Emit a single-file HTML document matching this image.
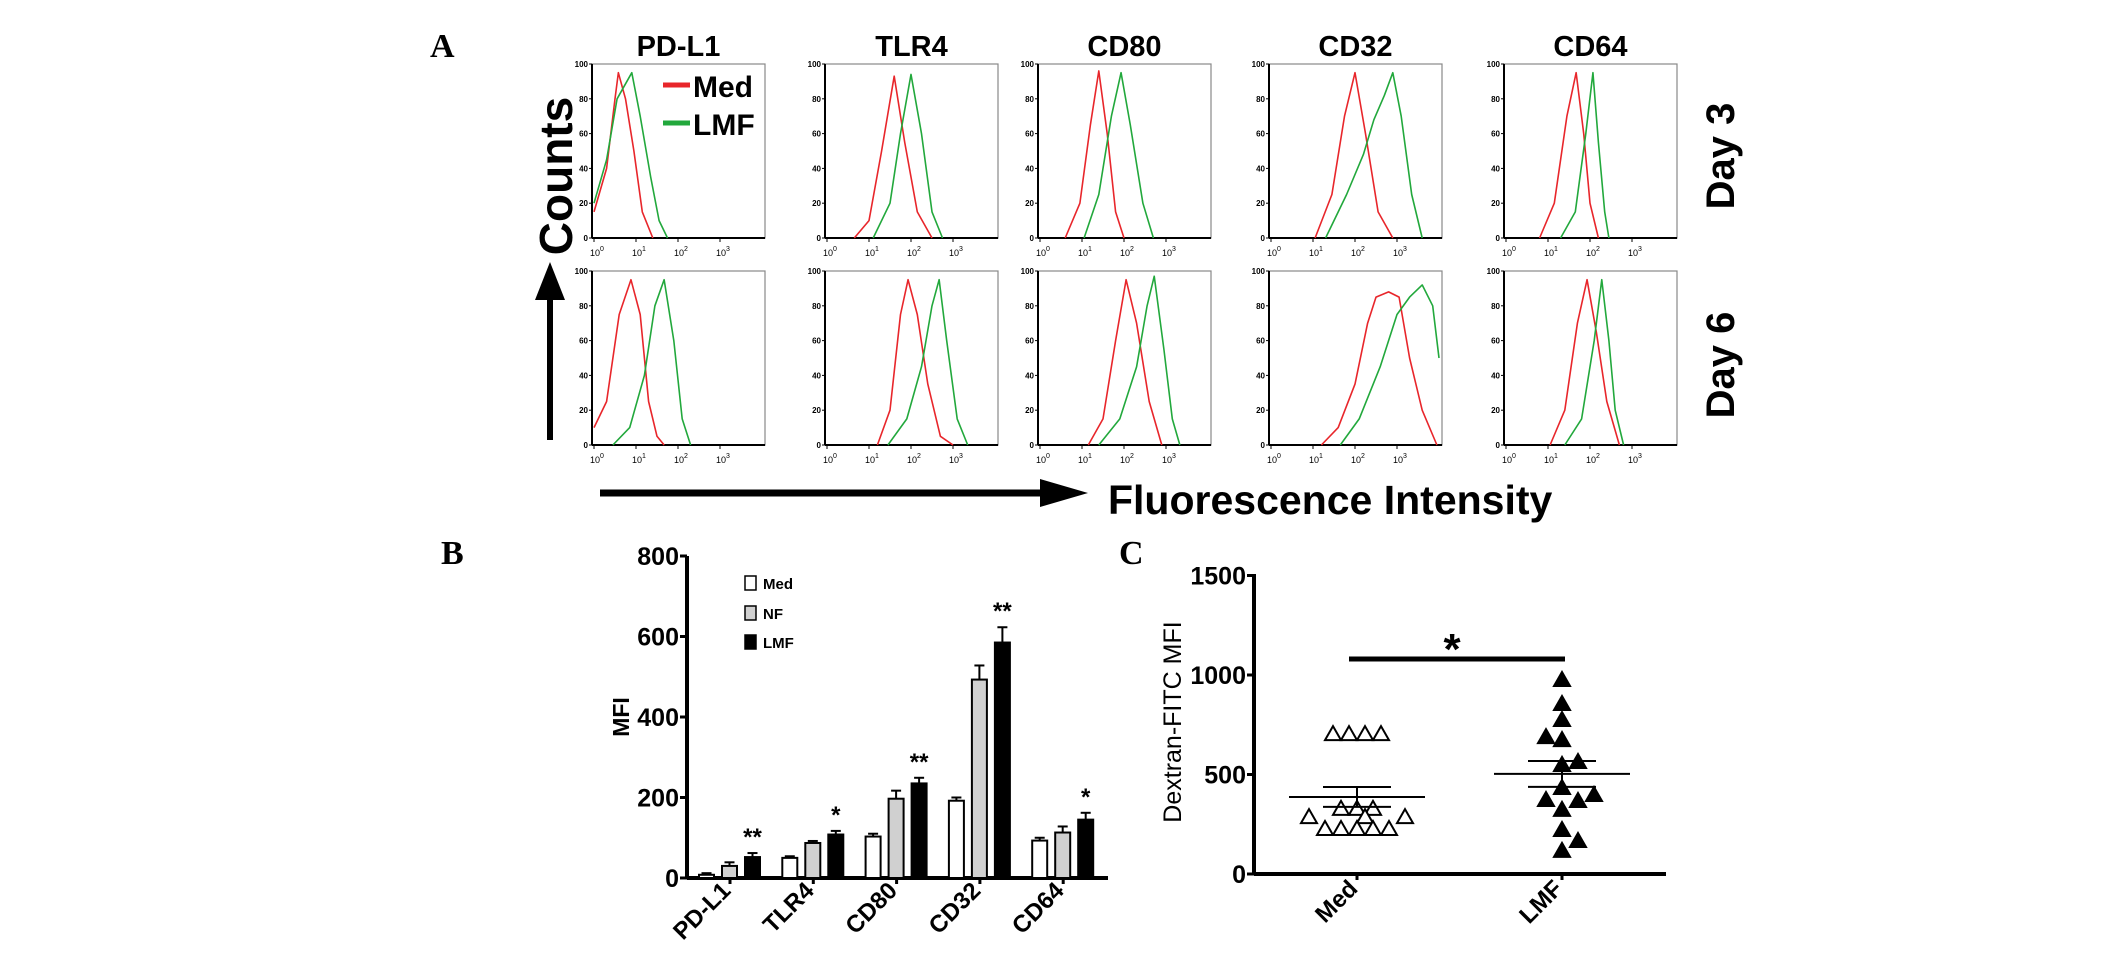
<!DOCTYPE html>
<html><head><meta charset="utf-8"><style>
html,body{margin:0;padding:0;background:#fff;}
svg{display:block;font-family:"Liberation Sans",Arial,sans-serif;}
</style></head><body>
<svg id="fig" width="2126" height="960" viewBox="0 0 2126 960" xmlns="http://www.w3.org/2000/svg">
<rect x="0" y="0" width="2126" height="960" fill="#fff"/>
<text x="430" y="57" font-family="Liberation Serif,serif" font-weight="bold" font-size="34">A</text>
<text x="441" y="564" font-family="Liberation Serif,serif" font-weight="bold" font-size="34">B</text>
<text x="1119" y="564" font-family="Liberation Serif,serif" font-weight="bold" font-size="34">C</text>
<text transform="translate(572,176) rotate(-90)" text-anchor="middle" font-weight="bold" font-size="46">Counts</text>
<g><line x1="550" y1="440" x2="550" y2="290" stroke="#000" stroke-width="6"/><polygon points="550,262 535,300 565,300" fill="#000"/></g>
<g><line x1="600" y1="493" x2="1050" y2="493" stroke="#000" stroke-width="7"/><polygon points="1088,493 1040,479 1040,507" fill="#000"/></g>
<text x="1108" y="514" font-weight="bold" font-size="41">Fluorescence Intensity</text>
<text transform="translate(1734,156) rotate(-90)" text-anchor="middle" font-weight="bold" font-size="40">Day 3</text>
<text transform="translate(1734,365) rotate(-90)" text-anchor="middle" font-weight="bold" font-size="40">Day 6</text>
<g id="hist"></g>
<g id="barB"></g>
<g id="dotC"></g>
</svg>
<script>
const NS="http://www.w3.org/2000/svg";
function mk(tag,attrs,parent,txt){const e=document.createElementNS(NS,tag);for(const k in attrs)e.setAttribute(k,attrs[k]);if(txt!==undefined)e.textContent=txt;parent.appendChild(e);return e;}

/* ---------- Panel A histogram data: [log10 decade, % max count] ---------- */
const markers=["PD-L1","TLR4","CD80","CD32","CD64"];
const day3Med=[
 [[0,15],[0.3,40],[0.5,80],[0.58,95],[0.75,80],[0.95,50],[1.15,15],[1.4,0]],
 [[0.65,0],[1.0,10],[1.3,50],[1.6,93],[1.85,55],[2.15,15],[2.5,0]],
 [[0.6,0],[0.95,20],[1.2,65],[1.4,96],[1.6,60],[1.8,15],[2.0,0]],
 [[1.05,0],[1.45,25],[1.75,70],[2.0,95],[2.25,60],[2.55,15],[2.9,0]],
 [[0.8,0],[1.15,20],[1.45,70],[1.67,95],[1.85,60],[2.0,20],[2.2,0]]];
const day3LMF=[
 [[0,20],[0.3,45],[0.55,80],[0.9,95],[1.1,70],[1.35,35],[1.55,10],[1.75,0]],
 [[1.1,0],[1.5,20],[1.75,60],[2.0,94],[2.25,60],[2.5,15],[2.75,0]],
 [[1.05,0],[1.4,25],[1.7,70],[1.93,95],[2.15,65],[2.45,20],[2.7,0]],
 [[1.3,0],[1.8,25],[2.2,48],[2.45,68],[2.7,82],[2.9,95],[3.1,70],[3.35,25],[3.6,0]],
 [[1.3,0],[1.65,15],[1.9,60],[2.07,95],[2.2,55],[2.35,15],[2.45,0]]];
const day6Med=[
 [[0,10],[0.3,25],[0.6,75],[0.88,95],[1.1,75],[1.3,25],[1.5,5],[1.67,0]],
 [[1.2,0],[1.5,20],[1.75,75],[1.93,95],[2.15,75],[2.4,35],[2.7,5],[3.0,0]],
 [[1.15,0],[1.5,15],[1.8,60],[2.05,95],[2.3,70],[2.6,25],[2.9,0]],
 [[1.2,0],[1.6,10],[2.0,35],[2.3,70],[2.5,85],[2.8,88],[3.05,85],[3.3,50],[3.6,20],[3.95,0]],
 [[1.05,0],[1.4,20],[1.7,70],[1.93,95],[2.15,65],[2.4,25],[2.7,0]]];
const day6LMF=[
 [[0.45,0],[0.85,10],[1.2,40],[1.45,80],[1.67,95],[1.9,60],[2.1,15],[2.3,0]],
 [[1.45,0],[1.9,15],[2.25,45],[2.5,80],[2.67,95],[2.85,60],[3.1,15],[3.35,0]],
 [[1.4,0],[1.9,15],[2.3,45],[2.55,80],[2.72,97],[2.95,55],[3.15,15],[3.33,0]],
 [[1.65,0],[2.1,15],[2.6,45],[3.0,75],[3.3,85],[3.6,92],[3.85,80],[4.0,50]],
 [[1.4,0],[1.8,15],[2.1,60],[2.28,95],[2.45,60],[2.6,20],[2.8,0]]];
const histYTicks=[0,20,40,60,80,100];
const histXTicks=[0,1,2,3];

/* ---------- Panel B data ---------- */
const barCats=["PD-L1","TLR4","CD80","CD32","CD64"];
const barMed=[8,50,103,192,93];
const barNF=[30,87,197,493,113];
const barLMF=[52,108,235,585,145];
const errMed=[4,4,7,8,7];
const errNF=[9,5,20,35,15];
const errLMF=[10,9,14,38,17];
const sigLabels=["**","*","**","**","*"];
const barYTicks=[0,200,400,600,800];

/* ---------- Panel C data ---------- */
const dotMed=[703,703,703,703,327,327,327,286,286,286,226,226,226,226,226];
const dotMedOffset=[-1.5,-0.5,0.5,1.5,-1,0,1,-3,0.5,3,-2,-1,0,1,2];
const dotLMF=[975,854,774,688,673,563,548,432,397,372,367,322,221,166,116];
const dotLMFOffset=[0,0,0,-1,0,1,0,0,2,-1,1,0,0,1,0];
const dotMeans=[387,503];
const dotSEM=[50,65];
const dotYTicks=[0,500,1000,1500];

/* ---------------- draw Panel A ---------------- */
const H=document.getElementById('hist');
const lefts=[592,825,1038,1269,1504], tops=[64,271], PW=173, PH=174, DEC=42;
const hx=(l,d)=>l+2+d*DEC, hy=(t,v)=>t+PH-v*PH/100;
const rows=[[day3Med,day3LMF],[day6Med,day6LMF]];
markers.forEach((m,i)=>{
  const t=mk('text',{x:lefts[i]+PW/2,y:56,'text-anchor':'middle','font-weight':'bold','font-size':29},H,m);
  
  
});
rows.forEach((series,r)=>{
  lefts.forEach((l,i)=>{
    const t=tops[r];
    const g=mk('g',{},H);
    
    
    mk('rect',{x:l,y:t,width:PW,height:PH,fill:'none',stroke:'#888','stroke-width':1.2},g);
    mk('line',{x1:l,y1:t,x2:l,y2:t+PH,stroke:'#000','stroke-width':2},g);
    mk('line',{x1:l,y1:t+PH,x2:l+PW,y2:t+PH,stroke:'#000','stroke-width':2},g);
    histYTicks.forEach(v=>{
      const y=hy(t,v);
      mk('line',{x1:l-3,y1:y,x2:l,y2:y,stroke:'#000','stroke-width':1},g);
      const tx=mk('text',{x:l-4,y:y+3,'text-anchor':'end','font-size':8,'font-weight':'bold'},g,v);
      
      
    });
    histXTicks.forEach(d=>{
      const x=hx(l,d);
      mk('line',{x1:x,y1:t+PH,x2:x,y2:t+PH+4,stroke:'#000','stroke-width':1},g);
      const tx=mk('text',{x:x-4,y:t+PH+18,'font-size':9},g);
      
      
      mk('tspan',{},tx,'10');
      mk('tspan',{dy:-5,'font-size':7},tx,String(d));
    });
    [[series[0][i],'#e8262b','med'],[series[1][i],'#22a83c','lmf']].forEach(([pts,col,nm])=>{
      const p=mk('polyline',{points:pts.map(q=>hx(l,q[0])+','+hy(t,q[1])).join(' '),fill:'none',stroke:col,'stroke-width':1.6,'stroke-linejoin':'round'},g);
      
      
    });
  });
});
/* legend in A */
const la=mk('g',{},H);


mk('line',{x1:663,y1:85,x2:690,y2:85,stroke:'#e8262b','stroke-width':5},la);
mk('text',{x:693,y:97,'font-weight':'bold','font-size':30},la,'Med');
mk('line',{x1:663,y1:123,x2:690,y2:123,stroke:'#22a83c','stroke-width':5},la);
mk('text',{x:693,y:135,'font-weight':'bold','font-size':30},la,'LMF');

/* ---------------- draw Panel B ---------------- */
const B=document.getElementById('barB');
const bx0=687, by0=878, bpx=80.5/200, bTop=556;
const byv=v=>by0-v*bpx;
const groupX=i=>730+i*83.3;
mk('line',{x1:bx0,y1:bTop,x2:bx0,y2:by0,stroke:'#000','stroke-width':4},B);
mk('line',{x1:bx0,y1:by0,x2:1108,y2:by0,stroke:'#000','stroke-width':4},B);
barYTicks.forEach(v=>{
  mk('line',{x1:bx0-7,y1:byv(v),x2:bx0,y2:byv(v),stroke:'#000','stroke-width':3},B);
  const t=mk('text',{x:bx0-8,y:byv(v)+9,'text-anchor':'end','font-weight':'bold','font-size':25},B,v);
  
  
});
const ylb=mk('text',{transform:'translate(629,717) rotate(-90)','text-anchor':'middle','font-weight':'bold','font-size':23},B,'MFI');


const series=[[barMed,errMed,'#fff','med'],[barNF,errNF,'#d0d0d0','nf'],[barLMF,errLMF,'#000','lmf']];
barCats.forEach((c,i)=>{
  const cx=groupX(i);
  mk('line',{x1:cx,y1:by0,x2:cx,y2:by0+6,stroke:'#000','stroke-width':3},B);
  series.forEach(([vals,errs,fill,nm],k)=>{
    const x=cx-31+k*23, w=15, v=vals[i];
    const ey=byv(v+errs[i]);
    mk('line',{x1:x+w/2,y1:byv(v),x2:x+w/2,y2:ey,stroke:'#000','stroke-width':2},B);
    mk('line',{x1:x+w/2-5,y1:ey,x2:x+w/2+5,y2:ey,stroke:'#000','stroke-width':2},B);
    const r=mk('rect',{x:x,y:byv(v),width:w,height:v*bpx,fill:fill,stroke:'#000','stroke-width':2},B);
    
    
  });
  const sx=cx-31+2*23+7.5;
  const s=mk('text',{x:sx,y:byv(barLMF[i]+errLMF[i])-8,'text-anchor':'middle','font-weight':'bold','font-size':24},B,sigLabels[i]);
  
  
  const lb=mk('text',{transform:'translate('+(cx+2)+','+(by0+14)+') rotate(-45)','text-anchor':'end','font-weight':'bold','font-size':24},B,c);
  
  
});
[['Med','#fff',583],['NF','#d0d0d0',613],['LMF','#000',642]].forEach(([n,f,y])=>{
  const g=mk('g',{},B);
  
  
  mk('rect',{x:745,y:y-7,width:11,height:14,fill:f,stroke:'#000','stroke-width':1.5},g);
  mk('text',{x:763,y:y+6,'font-weight':'bold','font-size':15},g,n);
});

/* ---------------- draw Panel C ---------------- */
const C=document.getElementById('dotC');
const cx0=1254, cy0=874, cpx=99.5/500;
const cyv=v=>cy0-v*cpx;
const catX=[1357,1562];
mk('line',{x1:cx0,y1:574,x2:cx0,y2:cy0,stroke:'#000','stroke-width':4},C);
mk('line',{x1:cx0,y1:cy0,x2:1666,y2:cy0,stroke:'#000','stroke-width':4},C);
dotYTicks.forEach(v=>{
  mk('line',{x1:cx0-7,y1:cyv(v),x2:cx0,y2:cyv(v),stroke:'#000','stroke-width':3},C);
  const t=mk('text',{x:cx0-8,y:cyv(v)+9,'text-anchor':'end','font-weight':'bold','font-size':25},C,v);
  
  
});
const cyl=mk('text',{transform:'translate(1181,722) rotate(-90)','text-anchor':'middle','font-size':25},C,'Dextran-FITC MFI');


['Med','LMF'].forEach((c,i)=>{
  mk('line',{x1:catX[i],y1:cy0,x2:catX[i],y2:cy0+6,stroke:'#000','stroke-width':3},C);
  const lb=mk('text',{transform:'translate('+(catX[i]+2)+','+(cy0+16)+') rotate(-45)','text-anchor':'end','font-weight':'bold','font-size':24},C,c);
  
  
});
function tri(x,y,filled,nm){
  const p=mk('polygon',{points:(x)+','+(y-8)+' '+(x-8)+','+(y+6)+' '+(x+8)+','+(y+6),fill:filled?'#000':'#fff',stroke:'#000','stroke-width':2},C);
  
  
}
dotMed.forEach((v,i)=>tri(catX[0]+dotMedOffset[i]*16,cyv(v),false,'dot-med'));
dotLMF.forEach((v,i)=>tri(catX[1]+dotLMFOffset[i]*16,cyv(v),true,'dot-lmf'));
dotMeans.forEach((m,i)=>{
  const x=catX[i];
  const g=mk('g',{},C);
  
  
  mk('line',{x1:x-68,y1:cyv(m),x2:x+68,y2:cyv(m),stroke:'#000','stroke-width':2},g);
  mk('line',{x1:x,y1:cyv(m-dotSEM[i]),x2:x,y2:cyv(m+dotSEM[i]),stroke:'#000','stroke-width':2},g);
  mk('line',{x1:x-34,y1:cyv(m+dotSEM[i]),x2:x+34,y2:cyv(m+dotSEM[i]),stroke:'#000','stroke-width':2},g);
  mk('line',{x1:x-34,y1:cyv(m-dotSEM[i]),x2:x+34,y2:cyv(m-dotSEM[i]),stroke:'#000','stroke-width':2},g);
});
const sb=mk('line',{x1:1349,y1:659,x2:1565,y2:659,stroke:'#000','stroke-width':5},C);


const st=mk('text',{x:1452,y:664,'text-anchor':'middle','font-weight':'bold','font-size':44},C,'*');


</script>
</body></html>
